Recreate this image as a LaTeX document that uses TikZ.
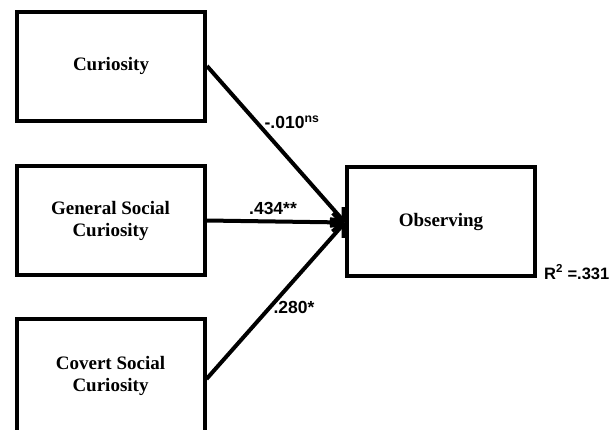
\documentclass[tikz,border=0pt]{standalone}
\usepackage{fontspec}
\setmainfont{Liberation Serif}
\newfontfamily\labfont{Liberation Sans}
\usetikzlibrary{arrows.meta}
\begin{document}
\begin{tikzpicture}[x=1pt,y=-1pt,
  box/.style={draw=black,line width=4pt,minimum width=188pt,minimum height=109pt,inner sep=0pt,
    align=center,font=\fontsize{19}{22}\selectfont\bfseries},
  conn/.style={line width=4pt,-{Straight Barb[length=10pt,width=18pt,line width=3.5pt]}},
  lab/.style={font=\labfont\fontsize{17.5}{20}\selectfont\bfseries,inner sep=0pt}]
\useasboundingbox (0,0) rectangle (610,429);
\clip (0,0) rectangle (610,429);
\fill[white] (0,0) rectangle (610,429);
\node[box] (cur) at (111,66) {Curiosity};
\node[box] (gen) at (110.5,220.5) {General Social\\Curiosity};
\node[box,minimum height=114pt] (cov) at (110.5,376) {Covert Social\\Curiosity};
\node[box] (obs) at (441,221.5) {Observing};
\coordinate (tip) at ([yshift=-1pt]obs.west);
\coordinate (covout) at ([yshift=-3pt]cov.east);
\draw[conn] (cur.east) -- (tip);
\draw[conn] (gen.east) -- (tip);
\draw[conn] (covout) -- (tip);
\node[lab] (l1) at (292,122) {-.010\textsuperscript{ns}};
\node[lab] (l2) at (273,208) {.434**};
\node[lab] (l3) at (294,307) {.280*};
\node[lab,anchor=east,font=\labfont\fontsize{16.5}{19}\selectfont\bfseries] (r2) at (609.5,272) {R\textsuperscript{2} =.331};
\end{tikzpicture}
\end{document}
